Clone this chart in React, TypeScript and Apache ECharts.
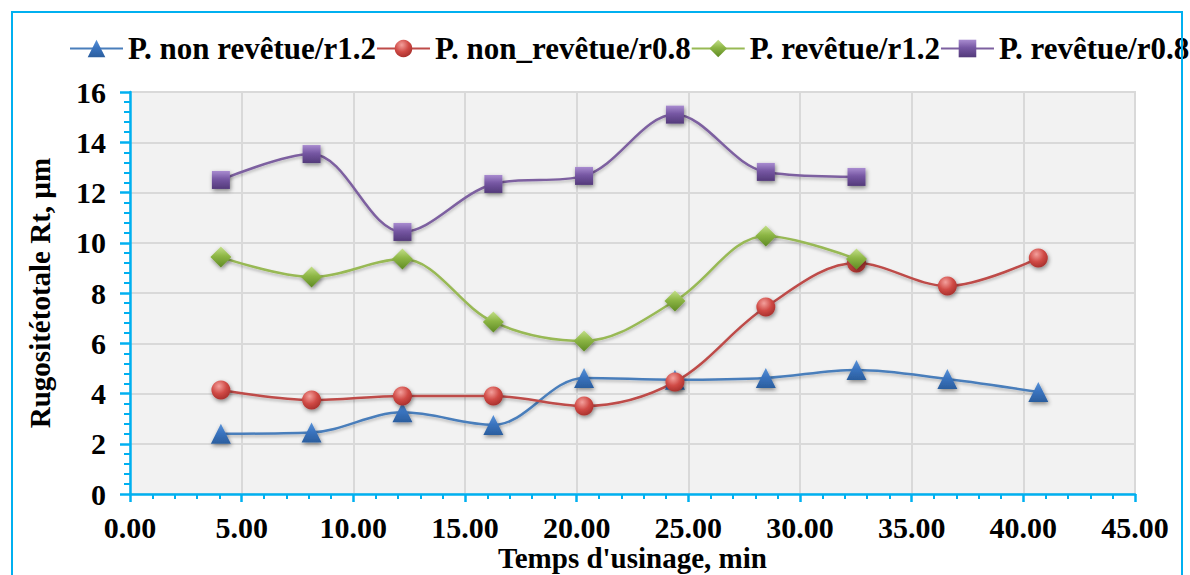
import React, { useEffect, useRef } from "react";
import * as echarts from "echarts";

const seriesNames = [
  "P. non revêtue/r1.2",
  "P. non_revêtue/r0.8",
  "P. revêtue/r1.2",
  "P. revêtue/r0.8",
];

const timeValues = [4.07, 8.13, 12.2, 16.27, 20.33, 24.4, 28.47, 32.53, 36.6, 40.67];

const nonRevetueR12 = [2.4, 2.45, 3.25, 2.75, 4.62, 4.55, 4.62, 4.94, 4.58, 4.06];
const nonRevetueR08 = [4.14, 3.74, 3.9, 3.9, 3.5, 4.46, 7.44, 9.19, 8.28, 9.39];
const revetueR12 = [9.43, 8.64, 9.35, 6.85, 6.09, 7.68, 10.27, 9.35];
const revetueR08 = [12.5, 13.53, 10.43, 12.34, 12.66, 15.1, 12.82, 12.62];

const xTicks = [0, 5, 10, 15, 20, 25, 30, 35, 40, 45];
const yTicks = [0, 2, 4, 6, 8, 10, 12, 14, 16];

const FONT = "'Liberation Serif', 'Times New Roman', serif";
const AXIS_BLUE = "#00B0F0";

function pair(vals: number[]) {
  return vals.map((v, i) => [timeValues[i], v]);
}

function radial(light: string, base: string, dark: string) {
  return new echarts.graphic.RadialGradient(0.4, 0.3, 0.8, [
    { offset: 0, color: light },
    { offset: 0.5, color: base },
    { offset: 1, color: dark },
  ]);
}

function linear(light: string, base: string, dark: string) {
  return new echarts.graphic.LinearGradient(0, 0, 0, 1, [
    { offset: 0, color: light },
    { offset: 0.45, color: base },
    { offset: 1, color: dark },
  ]);
}

export default function App() {
  const ref = useRef<HTMLDivElement>(null);

  useEffect(() => {
    if (!ref.current) return;
    const chart = echarts.init(ref.current, null, { renderer: "svg" });

    const shadow = {
      shadowBlur: 4,
      shadowColor: "rgba(0,0,0,0.45)",
      shadowOffsetX: 1,
      shadowOffsetY: 2,
    };

    const defs = [
      {
        name: seriesNames[0],
        data: nonRevetueR12,
        line: "#4A7EBB",
        symbol: "triangle",
        size: 20,
        fill: linear("#5A93D8", "#3A74C0", "#2B5E9E"),
      },
      {
        name: seriesNames[1],
        data: nonRevetueR08,
        line: "#BE4B48",
        symbol: "circle",
        size: 19,
        fill: radial("#F3A09C", "#D04A45", "#9E2A27"),
      },
      {
        name: seriesNames[2],
        data: revetueR12,
        line: "#98B954",
        symbol: "diamond",
        size: 21,
        fill: linear("#C4E08A", "#8DB645", "#5E8A23"),
      },
      {
        name: seriesNames[3],
        data: revetueR08,
        line: "#7D60A0",
        symbol: "rect",
        size: 18,
        fill: linear("#A98CD0", "#7657A3", "#533A7A"),
      },
    ];

    chart.setOption({
      animation: false,
      backgroundColor: "#ffffff",
      textStyle: { fontFamily: FONT },
      graphic: [
        {
          type: "rect",
          shape: { x: 12, y: 12, width: 1170, height: 580 },
          style: { fill: "none", stroke: AXIS_BLUE, lineWidth: 2 },
          silent: true,
          z: 100,
        },
      ],
      legend: {
        left: 69,
        top: 33,
        width: 1800,
        itemWidth: 53,
        itemHeight: 22,
        itemGap: 0,
        padding: 0,
        textStyle: {
          fontFamily: FONT,
          fontWeight: "bold",
          fontSize: 31,
          color: "#000",
        },
        data: seriesNames,
      },
      grid: {
        left: 130,
        top: 92,
        right: 55,
        bottom: 81,
        outerBoundsMode: "none",
        containLabel: false,
        show: true,
        backgroundColor: "#F2F2F2",
        borderColor: "#D9D9D9",
        borderWidth: 2,
      },
      xAxis: {
        type: "value",
        min: xTicks[0],
        max: xTicks[xTicks.length - 1],
        interval: 5,
        name: "Temps d'usinage, min",
        nameLocation: "middle",
        nameMoveOverlap: false,
        nameGap: 49,
        nameTextStyle: {
          fontFamily: FONT,
          fontWeight: "bold",
          fontSize: 29,
          lineHeight: 30,
          verticalAlign: "top",
          color: "#000",
        },
        axisLine: { show: true, lineStyle: { color: AXIS_BLUE, width: 2.5 } },
        axisTick: { show: true, length: 8, lineStyle: { color: AXIS_BLUE, width: 2.5 } },
        minorTick: {
          show: true,
          splitNumber: 5,
          length: 5,
          lineStyle: { color: AXIS_BLUE, width: 2 },
        },
        axisLabel: {
          margin: 18,
          fontFamily: FONT,
          fontWeight: "bold",
          fontSize: 30,
          color: "#000",
          formatter: (v: number) => v.toFixed(2),
        },
        splitLine: { show: true, lineStyle: { color: "#D9D9D9", width: 2 } },
      },
      yAxis: {
        type: "value",
        min: yTicks[0],
        max: yTicks[yTicks.length - 1],
        interval: 2,
        name: "Rugositétotale Rt, µm",
        nameLocation: "middle",
        nameGap: 76,
        nameTextStyle: {
          fontFamily: FONT,
          fontWeight: "bold",
          fontSize: 29,
          color: "#000",
        },
        axisLine: { show: true, lineStyle: { color: AXIS_BLUE, width: 2.5 } },
        axisTick: { show: true, length: 10, lineStyle: { color: AXIS_BLUE, width: 2.5 } },
        minorTick: {
          show: true,
          splitNumber: 5,
          length: 6,
          lineStyle: { color: AXIS_BLUE, width: 2 },
        },
        axisLabel: {
          margin: 24,
          fontFamily: FONT,
          fontWeight: "bold",
          fontSize: 30,
          color: "#000",
        },
        splitLine: { show: true, lineStyle: { color: "#D9D9D9", width: 2 } },
      },
      series: defs.map((d) => ({
        name: d.name,
        type: "line",
        smooth: 0.35,
        data: pair(d.data),
        symbol: d.symbol,
        symbolSize: d.size,
        showAllSymbol: true,
        lineStyle: {
          color: d.line,
          width: 2.5,
          shadowBlur: 3,
          shadowColor: "rgba(0,0,0,0.25)",
          shadowOffsetY: 2,
        },
        itemStyle: { color: d.fill, borderWidth: 0, ...shadow },
        emphasis: { disabled: true },
      })),
    });

    return () => chart.dispose();
  }, []);

  return (
    <div
      ref={ref}
      style={{ position: "fixed", left: 0, top: 0, width: 1190, height: 575 }}
    />
  );
}
